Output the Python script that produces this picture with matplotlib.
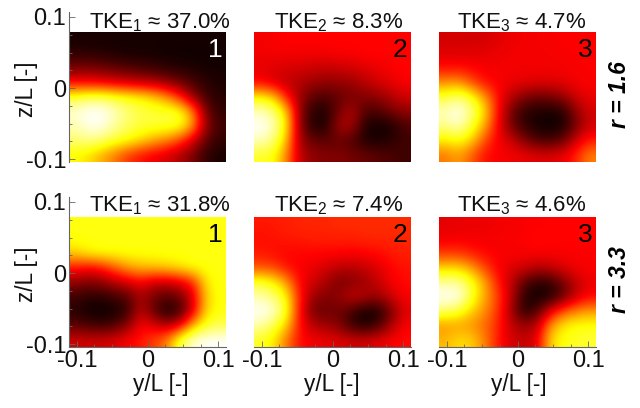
import matplotlib
matplotlib.use("Agg")
import matplotlib.pyplot as plt
import numpy as np

W, H = 640, 408
plt.rcParams['font.family'] = ['Liberation Sans', 'DejaVu Sans']
plt.rcParams['mathtext.fontset'] = 'custom'
plt.rcParams['mathtext.rm'] = 'Liberation Sans'
plt.rcParams['mathtext.default'] = 'rm'

top_1 = [[.02]*12,
 [.05,.05,.04,.03,.02,.02,.02,.01,.01,.01,.01,.01],
 [.17,.17,.15,.13,.11,.09,.07,.05,.04,.03,.02,.02],
 [.36,.36,.34,.32,.29,.27,.25,.20,.15,.09,.05,.03],
 [.80,.84,.84,.80,.77,.74,.68,.58,.42,.20,.08,.04],
 [.96,1.0,1.0,.94,.86,.82,.80,.80,.78,.56,.15,.06],
 [.92,.98,.98,.90,.84,.80,.80,.80,.78,.60,.20,.08],
 [.86,.88,.86,.80,.76,.70,.62,.56,.46,.30,.12,.06],
 [.74,.70,.62,.54,.44,.38,.34,.30,.24,.16,.06,.02]]
top_2 = [[.35,.36,.37,.37,.37,.37,.37,.37,.37,.37,.37,.37],
 [.35,.35,.35,.35,.35,.35,.36,.36,.37,.37,.37,.37],
 [.33,.32,.31,.30,.29,.28,.29,.30,.32,.34,.36,.37],
 [.36,.30,.27,.25,.22,.20,.20,.22,.26,.30,.33,.36],
 [.74,.68,.40,.22,.12,.10,.14,.16,.18,.20,.25,.30],
 [.94,.88,.68,.20,.04,.03,.16,.26,.10,.10,.16,.20],
 [1.0,.94,.72,.20,.03,.03,.24,.24,.03,.01,.02,.10],
 [.94,.87,.66,.22,.14,.12,.14,.10,.03,.02,.05,.08],
 [.78,.76,.56,.27,.20,.18,.18,.16,.14,.12,.10,.08]]
top_3 = [[.30,.30,.30,.30,.32,.34,.35,.35,.36,.36,.36,.36],
 [.32,.32,.32,.33,.34,.35,.35,.35,.35,.36,.36,.36],
 [.38,.38,.37,.35,.35,.35,.35,.35,.35,.35,.36,.36],
 [.58,.60,.48,.38,.36,.34,.33,.32,.32,.33,.35,.36],
 [.80,.86,.78,.60,.38,.26,.18,.14,.16,.20,.30,.34],
 [.94,1.0,.88,.70,.38,.16,.05,.03,.02,.04,.20,.30],
 [.88,.94,.80,.62,.36,.16,.06,.02,.00,.02,.16,.30],
 [.72,.76,.68,.48,.35,.30,.18,.10,.08,.14,.30,.40],
 [.54,.60,.50,.38,.36,.35,.34,.32,.32,.34,.42,.56]]
bot_1 = [[.76]*12,
 [.76]*12,
 [.68,.74,.76,.76,.76,.76,.76,.76,.76,.76,.76,.76],
 [.40,.36,.40,.50,.60,.64,.66,.68,.72,.76,.76,.76],
 [.20,.18,.20,.26,.30,.36,.28,.28,.32,.42,.72,.76],
 [.08,.05,.05,.08,.12,.24,.16,.12,.16,.32,.68,.76],
 [.04,.01,.00,.01,.06,.28,.12,.01,.06,.32,.70,.76],
 [.12,.09,.07,.10,.20,.36,.32,.24,.34,.64,.78,.82],
 [.30,.30,.30,.32,.36,.40,.46,.56,.82,.96,1.0,1.0]]
bot_2 = [[.40,.40,.41,.42,.42,.42,.43,.43,.43,.43,.43,.43],
 [.38,.39,.40,.40,.41,.41,.41,.41,.42,.42,.42,.42],
 [.40,.38,.37,.37,.37,.37,.37,.36,.37,.38,.40,.41],
 [.48,.46,.38,.36,.34,.30,.27,.26,.28,.32,.37,.39],
 [.80,.74,.60,.36,.30,.24,.16,.18,.22,.28,.35,.38],
 [.92,.86,.74,.40,.22,.18,.20,.30,.26,.22,.30,.36],
 [1.0,.97,.78,.38,.15,.14,.16,.08,.01,.02,.16,.32],
 [.92,.82,.68,.38,.26,.22,.18,.06,.02,.08,.24,.36],
 [.78,.72,.54,.38,.35,.34,.32,.30,.30,.33,.36,.38]]
bot_3 = [[.33,.33,.34,.34,.35,.35,.36,.36,.37,.37,.37,.37],
 [.34,.35,.35,.35,.35,.36,.36,.38,.37,.37,.37,.37],
 [.44,.44,.40,.37,.36,.36,.36,.36,.36,.36,.36,.36],
 [.68,.68,.60,.46,.36,.32,.30,.26,.28,.32,.35,.36],
 [.90,.90,.78,.62,.40,.28,.12,.05,.06,.16,.28,.34],
 [1.0,1.0,.80,.62,.46,.28,.05,.00,.02,.12,.28,.36],
 [.86,.80,.68,.58,.44,.24,.03,.10,.32,.48,.56,.60],
 [.58,.60,.58,.52,.42,.28,.22,.26,.58,.72,.76,.76],
 [.64,.70,.68,.56,.40,.30,.28,.32,.68,.76,.78,.80]]

fields = [[top_1, top_2, top_3], [bot_1, bot_2, bot_3]]
tke = [['37.0', '8.3', '4.7'], ['31.8', '7.4', '4.6']]
mode_labels = ['1', '2', '3']
row_labels = ['r = 1.6', 'r = 3.3']
tick_vals = [-0.1, 0, 0.1]
tick_labels = ['-0.1', '0', '0.1']
minor_vals = [-0.075, -0.05, -0.025, 0.025, 0.05, 0.075]
y_lo, y_img_top, y_hi = -0.104, 0.0775, 0.107
x_lim = (-0.111, 0.111)

col_left = [69, 254, 439]
col_w = 157
row_bottom = [162, 347]
row_h = 150
title_cx = [160, 339, 522]
title_base = [28, 211]
xlabel_cx = [161, 332, 519]
fs_tick = 17
fs_title = 16
fs_label = 16.3
fs_mode = 19

fig = plt.figure(figsize=(W/100, H/100), dpi=100)
fx = lambda p: p / W
fy = lambda p: 1 - p / H
grey = '#666666'

for r in range(2):
    for c in range(3):
        ax = fig.add_axes([fx(col_left[c]), fy(row_bottom[r]), col_w / W, row_h / H])
        ax.imshow(np.array(fields[r][c]), cmap='hot', vmin=0, vmax=1, aspect='auto',
                  interpolation='bicubic',
                  extent=[x_lim[0], x_lim[1], y_lo, y_img_top], origin='upper')
        ax.set_xlim(x_lim)
        ax.set_ylim(y_lo, y_hi)
        for s in ['top', 'right']:
            ax.spines[s].set_visible(False)
        ax.spines['left'].set_visible(c == 0)
        ax.spines['bottom'].set_visible(r == 1)
        for s in ['left', 'bottom']:
            ax.spines[s].set_color(grey)
            ax.spines[s].set_linewidth(0.8)
        ax.tick_params(which='both', direction='in', color=grey, width=0.6)
        ax.tick_params(which='major', length=4, labelsize=fs_tick, labelcolor='#111111', pad=2)
        ax.tick_params(which='minor', length=2)
        if c == 0:
            ax.set_yticks(tick_vals, tick_labels)
            ax.set_yticks(minor_vals, minor=True)
        else:
            ax.set_yticks([])
        if r == 1:
            ax.set_xticks(tick_vals, tick_labels)
            ax.set_xticks(minor_vals, minor=True)
            fig.text(fx(xlabel_cx[c]), fy(391), 'y/L [-]', fontsize=fs_label, ha='center',
                     va='baseline', color='#111111')
        else:
            ax.set_xticks([])
        fig.text(fx(title_cx[c]), fy(title_base[r]),
                 'TKE$_{%d}$ ≈ %s%%' % (c + 1, tke[r][c]), fontsize=fs_title,
                 ha='center', va='baseline', color='#111111')
        color = 'white' if (r == 0 and c == 0) else 'black'
        fig.text(fx(col_left[c] + 146), fy(row_bottom[r] - 112), mode_labels[c],
                 fontsize=fs_mode, ha='center', va='center', color=color)
    fig.text(fx(27), fy(row_bottom[r] - 73), 'z/L [-]', rotation=90, fontsize=fs_label,
             ha='center', va='center', color='#111111')
    fig.text(fx(620), fy(row_bottom[r] - 67), row_labels[r], rotation=90, fontsize=16.5,
             ha='center', va='center', fontweight='bold', fontstyle='italic', color='black')

fig.savefig('out.png', dpi=100)
